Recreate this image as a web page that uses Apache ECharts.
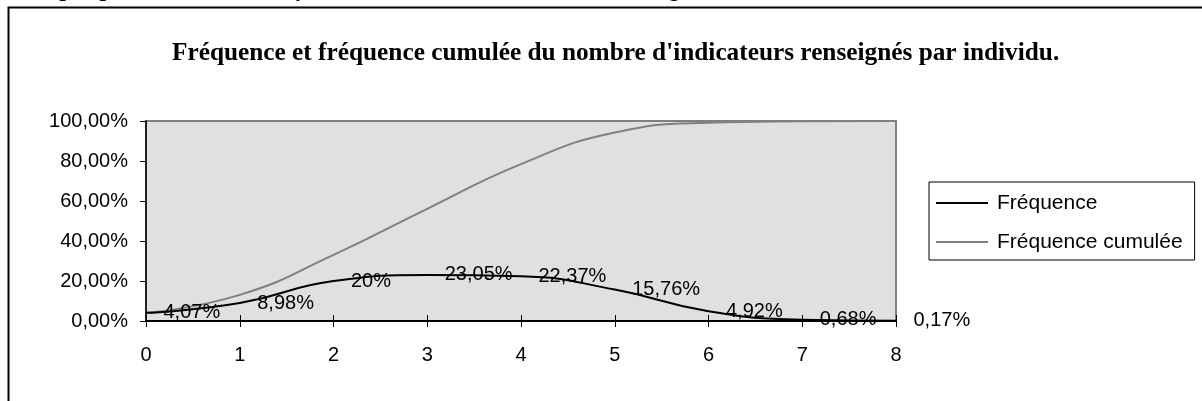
<!DOCTYPE html>
<html><head><meta charset="utf-8">
<script src="https://cdn.jsdelivr.net/npm/echarts@6/dist/echarts.min.js"></script>
<style>html,body{margin:0;padding:0;background:#fff}#c{width:1202px;height:401px}</style>
</head><body><div id="c"></div>
<script>
var xValues = [0, 1, 2, 3, 4, 5, 6, 7, 8];
var frequence = [4.07, 8.98, 20, 23.05, 22.37, 15.76, 4.92, 0.68, 0.17];
var cumulee = [4.07, 13.05, 33.05, 56.10, 78.47, 94.23, 99.15, 99.83, 100.00];
var seriesNames = ['Fréquence', 'Fréquence cumulée'];
var chartTitle = "Fréquence et fréquence cumulée du nombre d'indicateurs renseignés par individu.";
var headerBold = 'Graphique n°58 :';
var headerItalic = "Fréquences du nombre d'indicateurs renseignés.";

function pairs(vals){ return xValues.map(function(x,i){ return [x, vals[i]]; }); }
var SANS = '"Liberation Sans", Arial, sans-serif';
var SERIF = '"Liberation Serif", "Times New Roman", serif';

var chart = echarts.init(document.getElementById('c'), null, {renderer:'canvas'});
chart.setOption({
  animation: false,
  backgroundColor: '#ffffff',
  graphic: [
    {type:'rect', shape:{x:8.5, y:7.5, width:1400, height:600}, style:{fill:'none', stroke:'#000', lineWidth:2}, silent:true, z:0},
    {type:'text', x:18, y:-10.5, style:{text:headerBold, font:'bold 24px '+SERIF, fill:'#000', verticalAlign:'middle'}},
    {type:'text', x:255, y:-10.5, style:{text:headerItalic, font:'italic 24px '+SERIF, fill:'#000', verticalAlign:'middle'}}
  ],
  title: {
    text: chartTitle, left: 167, top: 36,
    textStyle: {fontFamily: SERIF, fontWeight: 'bold', fontSize: 25.3, color: '#000'}
  },
  legend: {
    orient: 'vertical', left: 929, top: 182,
    data: [{name: seriesNames[0], icon: 'rect'}, {name: seriesNames[1], icon: 'rect'}],
    itemWidth: 52, itemHeight: 2, itemGap: 17,
    borderColor: '#000', borderWidth: 1, borderRadius: 0,
    padding: [10, 12, 7, 7],
    textStyle: {fontFamily: SANS, fontSize: 21, color: '#000', lineHeight: 22, padding: [0,0,0,4]}
  },
  grid: {left: 146, right: 306, top: 121, bottom: 80, show: true,
    backgroundColor: '#e0e0e0', borderColor: '#808080', borderWidth: 2},
  xAxis: [{
    type: 'value', min: 0, max: 8, interval: 1,
    axisLine: {show: true, lineStyle: {color: '#000', width: 2}},
    axisTick: {show: true, length: 6, lineStyle: {color: '#000', width: 1}},
    axisLabel: {fontFamily: SANS, fontSize: 20, color: '#000', margin: 24},
    splitLine: {show: false}
  }, {
    type: 'value', min: 0, max: 8, interval: 1, position: 'bottom',
    axisLine: {show: false},
    axisTick: {show: true, inside: true, length: 6, lineStyle: {color: '#000', width: 1}},
    axisLabel: {show: false}, splitLine: {show: false}
  }],
  yAxis: {
    type: 'value', min: 0, max: 100, interval: 20,
    axisLine: {show: true, lineStyle: {color: '#000', width: 1.5}},
    axisTick: {show: true, length: 6, lineStyle: {color: '#000'}},
    axisLabel: {fontFamily: SANS, fontSize: 20, color: '#000', margin: 18,
      formatter: function(v){ return v.toFixed(2).replace('.', ',') + '%'; }},
    splitLine: {show: false}
  },
  series: [{
    name: seriesNames[0], type: 'line', data: pairs(frequence), smooth: 0.5,
    symbol: 'circle', symbolSize: 1, itemStyle: {color: '#000'},
    lineStyle: {color: '#000', width: 2}, z: 3,
    label: {show: true, position: 'right', distance: 17, fontFamily: SANS, fontSize: 20, color: '#000',
      formatter: function(p){ return String(p.value[1]).replace('.', ',') + '%'; }}
  }, {
    name: seriesNames[1], type: 'line', data: pairs(cumulee), smooth: 0.5,
    symbol: 'circle', symbolSize: 1, itemStyle: {color: '#808080'},
    lineStyle: {color: '#808080', width: 2}, z: 2
  }]
});
</script></body></html>
